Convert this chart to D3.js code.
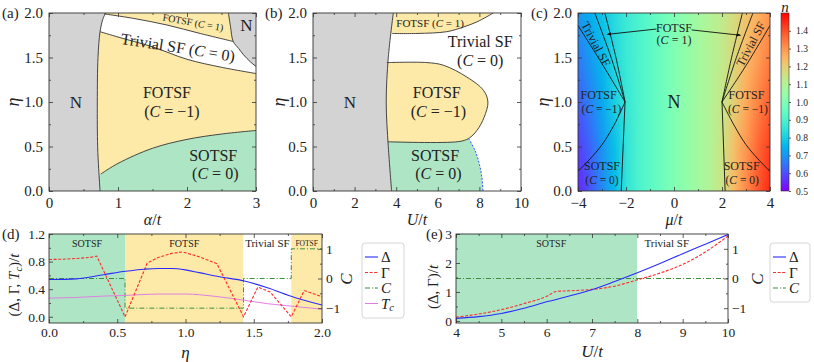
<!DOCTYPE html>
<html><head><meta charset="utf-8">
<script src="https://cdn.jsdelivr.net/npm/d3@7"></script>
<style>
body{margin:0;background:#fff}
svg text{font-family:"Liberation Serif","Times New Roman",serif;fill:#222}
</style></head><body>
<svg id="fig" width="814" height="362"></svg>
<script>
'use strict';

// ---- panel (a): alpha/t vs eta boundaries [alpha, eta]
var aNBound = [[0.74,0],[0.72,0.25],[0.705,0.5],[0.70,1.0],[0.71,1.5],[0.74,1.79],[0.78,1.93],[0.82,2.0]];
var aSotsfBound = [[0.75,0.19],[1.0,0.31],[1.5,0.48],[2.0,0.58],[2.5,0.64],[3.0,0.68]];
var aTrivLow = [[0.74,1.79],[1.0,1.73],[1.5,1.62],[2.0,1.48],[2.5,1.39],[3.0,1.32]];
var aTrivTop = [[0.80,1.99],[1.22,1.94],[1.71,1.865],[2.19,1.77],[2.67,1.68]];
var aNRight = [[2.6,2.0],[2.63,1.85],[2.67,1.68],[2.75,1.6],[2.82,1.53],[2.92,1.45],[3.0,1.40]];

// ---- panel (b): U/t vs eta [U, eta]
var bNBound = [[3.78,0],[3.62,0.5],[3.52,1.0],[3.62,1.5],[3.86,2.0]];
var bTopLobe = [[3.8,1.77],[5.0,1.77],[6.43,1.79],[7.2,1.84],[7.88,1.90],[8.67,2.0]];
var bMidLobe = [[3.55,1.443],[5.47,1.443],[6.27,1.413],[7.40,1.28],[8.2,1.13],[8.41,1.0],[8.23,0.83],[7.88,0.68],[7.48,0.59],[7.0,0.555],[3.6,0.553]];
var bSotsfEdge = [[7.48,0.59],[7.8,0.45],[8.0,0.3],[8.12,0.15],[8.17,0]];

// ---- panel (c): mu/t vs eta, density n
var cMu = [-4,-3.5,-3,-2.5,-2,-1.5,-1,-0.5,0,0.5,1,1.5,2,2.5,3,3.5,4];
var cEta = [0,0.5,1,1.5,2];
var cN = [
  [0.55,0.61,0.68,0.76,0.85,0.90,0.93,0.965,1.0,1.035,1.07,1.10,1.15,1.24,1.32,1.39,1.45],
  [0.58,0.63,0.70,0.77,0.85,0.90,0.93,0.965,1.0,1.035,1.07,1.10,1.15,1.23,1.30,1.37,1.42],
  [0.62,0.67,0.73,0.80,0.86,0.90,0.93,0.965,1.0,1.035,1.07,1.10,1.14,1.20,1.27,1.33,1.38],
  [0.66,0.71,0.76,0.82,0.87,0.90,0.93,0.965,1.0,1.035,1.07,1.10,1.13,1.18,1.24,1.29,1.34],
  [0.70,0.74,0.78,0.83,0.87,0.90,0.93,0.965,1.0,1.035,1.07,1.10,1.13,1.17,1.22,1.26,1.30]
];
var cLines = [
  [[-4,0.22],[-3.5,0.36],[-3,0.52],[-2.5,0.74],[-2.04,1.0]],
  [[-4,1.86],[-3,1.43],[-2.04,1.0]],
  [[-3.3,2.0],[-2.62,1.5],[-2.04,1.0]],
  [[-2.88,2.0],[-2.42,1.5],[-2.04,1.0]],
  [[-2.2,0],[-2.04,1.0]],
  [[4,0.22],[3.5,0.36],[3,0.52],[2.5,0.74],[2.0,1.0]],
  [[4,1.86],[3,1.41],[2.0,1.0]],
  [[3.29,2.0],[2.6,1.5],[2.0,1.0]],
  [[2.85,2.0],[2.4,1.5],[2.0,1.0]],
  [[2.13,0],[2.0,1.0]]
];
var cbTicks = [0.5,0.6,0.7,0.8,0.9,1.0,1.1,1.2,1.3,1.4];

// ---- panel (d): quantities vs eta
var dEta = [0,0.2,0.4,0.56,0.7,0.8,0.9,1.0,1.1,1.25,1.43,1.6,1.8,2.0];
var dDelta = [0.54,0.55,0.61,0.66,0.69,0.70,0.70,0.68,0.64,0.58,0.52,0.42,0.28,0.17];
var dGamma = [[0,0.83],[0.1,0.835],[0.2,0.845],[0.3,0.86],[0.35,0.88],[0.557,0.0],[0.72,0.78],[0.8,0.86],[0.9,0.92],[0.98,0.94],[1.1,0.87],[1.23,0.77],[1.425,0.0],[1.53,0.43],[1.62,0.36],[1.775,0.0],[1.87,0.38],[1.93,0.34],[2.0,0.29]];
var dChern = [[0,0],[0.557,0],[0.557,-1],[1.425,-1],[1.425,0],[1.775,0],[1.775,1],[2.0,1]];
var dTcEta = [0,0.2,0.4,0.56,0.8,1.0,1.2,1.43,1.6,1.8,2.0];
var dTc = [0.27,0.28,0.30,0.31,0.33,0.33,0.30,0.24,0.19,0.15,0.11];
var dBandEdges = [0,0.557,1.425,1.775,2.0];
var dBandNames = ['SOTSF','FOTSF','Trivial SF','FOTSF'];

// ---- panel (e): quantities vs U
var eU = [4,4.5,5,5.5,6,6.5,7,7.5,8,8.5,9,9.5,10];
var eDelta = [0.09,0.15,0.26,0.44,0.66,0.86,1.08,1.36,1.66,1.98,2.32,2.65,2.98];
var eGamma = [[4,0.13],[4.5,0.24],[5,0.39],[5.5,0.6],[6,0.85],[6.22,1.02],[6.5,1.04],[7,1.09],[7.5,1.2],[8,1.42],[8.5,1.65],[9,1.95],[9.5,2.38],[10,2.93]];
var eChern = [[4,0],[10,0]];
var eBandEdges = [4,8,10];
var eBandNames = ['SOTSF','Trivial SF'];
var eBandLabelU = [6.1,8.65];

var GREEN = '#aee6c5', YELLOW = '#fde9a8', GRAY = '#d3d3d3', EDGE = '#333';
var FONT = '"Liberation Serif","Times New Roman",serif';

var svg = d3.select('#fig');
var defs = svg.append('defs');
var clipN = 0;

function panel (box, xd, yd) {
  var x = d3.scaleLinear().domain(xd).range([box.l, box.r]);
  var y = d3.scaleLinear().domain(yd).range([box.b, box.t]);
  var id = 'clip' + (clipN++);
  defs.append('clipPath').attr('id', id).append('rect')
    .attr('x', box.l).attr('y', box.t).attr('width', box.r - box.l).attr('height', box.b - box.t);
  var g = svg.append('g');
  var plot = g.append('g').attr('clip-path', 'url(#' + id + ')');
  return {x: x, y: y, g: g, plot: plot, box: box};
}

function side (g, axis, scale, vals, size, fmt, tr, fs, pad) {
  var a = g.append('g').attr('transform', tr)
    .call(axis(scale).tickValues(vals).tickSizeInner(-size).tickSizeOuter(0)
      .tickPadding(pad || 5).tickFormat(fmt || function () { return ''; }));
  a.select('.domain').remove();
  a.selectAll('line').attr('stroke', EDGE).attr('stroke-width', 0.8);
  a.selectAll('text').attr('font-size', fs).attr('font-family', FONT).attr('fill', '#222');
  return a;
}

function axes (p, o) {
  var b = p.box, g = p.g;
  side(g, d3.axisBottom, p.x, o.xt, 4, o.xf, 'translate(0,' + b.b + ')', o.fs, o.pad);
  side(g, d3.axisBottom, p.x, o.xm, 2, null, 'translate(0,' + b.b + ')', o.fs);
  side(g, d3.axisTop, p.x, o.xt, 4, null, 'translate(0,' + b.t + ')', o.fs);
  side(g, d3.axisTop, p.x, o.xm, 2, null, 'translate(0,' + b.t + ')', o.fs);
  side(g, d3.axisLeft, p.y, o.yt, 4, o.yf, 'translate(' + b.l + ',0)', o.fs, o.pad);
  side(g, d3.axisLeft, p.y, o.ym, 2, null, 'translate(' + b.l + ',0)', o.fs);
  if (o.y2) {
    side(g, d3.axisRight, o.y2, [-1, 0, 1], 4, d3.format('d'), 'translate(' + b.r + ',0)', o.fs, o.pad);
    side(g, d3.axisRight, o.y2, [-0.5, 0.5], 2, null, 'translate(' + b.r + ',0)', o.fs);
  } else {
    side(g, d3.axisRight, p.y, o.yt, 4, null, 'translate(' + b.r + ',0)', o.fs);
    side(g, d3.axisRight, p.y, o.ym, 2, null, 'translate(' + b.r + ',0)', o.fs);
  }
  g.append('rect').attr('x', b.l).attr('y', b.t).attr('width', b.r - b.l).attr('height', b.b - b.t)
    .attr('fill', 'none').attr('stroke', EDGE).attr('stroke-width', 0.9);
}

// rich text: parts = [[string, italic, sub, unsub]]
function rich (g, x, y, parts, fs, opt) {
  opt = opt || {};
  var t = g.append('text').attr('x', x).attr('y', y).attr('font-size', fs)
    .attr('text-anchor', opt.anchor || 'middle').attr('dominant-baseline', 'central');
  if (opt.rotate) t.attr('transform', 'rotate(' + opt.rotate + ',' + x + ',' + y + ')');
  parts.forEach(function (pt) {
    var s = t.append('tspan').text(pt[0]);
    if (pt[1]) s.attr('font-style', 'italic');
    if (pt[2]) s.attr('font-size', fs * 0.7).attr('dy', fs * 0.25);
    else if (pt[3]) s.attr('dy', -fs * 0.25);
  });
  return t;
}

function seg (p, pts, curve) {
  return d3.line().x(function (d) { return p.x(d[0]); }).y(function (d) { return p.y(d[1]); })
    .curve(curve || d3.curveCatmullRom.alpha(0.5))(pts);
}
function lin (p, pts) {
  return pts.map(function (d) { return 'L' + p.x(d[0]) + ',' + p.y(d[1]); }).join('');
}
function join () {
  return Array.prototype.slice.call(arguments).map(function (s, i) {
    return i === 0 ? s : s.replace(/^M/, 'L');
  }).join('') + 'Z';
}
function stroke (p, pts, col, w, dash) {
  p.plot.append('path').attr('d', seg(p, pts)).attr('fill', 'none')
    .attr('stroke', col || EDGE).attr('stroke-width', w || 0.9).attr('stroke-dasharray', dash || null);
}
function fillRect (p, col) {
  var b = p.box;
  p.plot.append('rect').attr('x', b.l).attr('y', b.t).attr('width', b.r - b.l).attr('height', b.b - b.t).attr('fill', col);
}

function chern (v) { return [['(', 0], ['C', 1], [' = ' + v + ')', 0]]; }

var topAxis = {fs: 15, yt: [0, 0.5, 1, 1.5, 2], ym: [0.25, 0.75, 1.25, 1.75], yf: d3.format('.1f'), pad: 6};

// ================= (a)
var pa = panel({l: 49, r: 256, t: 13, b: 191}, [0, 3], [0, 2]);
fillRect(pa, YELLOW);
pa.plot.append('path').attr('fill', GREEN).attr('d', join(seg(pa, aSotsfBound), lin(pa, [[3, 0], [0.5, 0]])));
pa.plot.append('path').attr('fill', '#fff').attr('d', join(seg(pa, aTrivTop), seg(pa, aNRight.slice(2)),
  lin(pa, [[3, 1.32]]), seg(pa, aTrivLow.slice().reverse())));
pa.plot.append('path').attr('fill', GRAY).attr('d', join(seg(pa, aNRight), lin(pa, [[3, 2]])));
pa.plot.append('path').attr('fill', GRAY).attr('d', join(seg(pa, aNBound), lin(pa, [[0, 2], [0, 0]])));
[aNBound, aSotsfBound, aTrivLow, aTrivTop, aNRight].forEach(function (b) { stroke(pa, b); });
axes(pa, Object.assign({xt: [0, 1, 2, 3], xm: [0.5, 1.5, 2.5], xf: d3.format('d')}, topAxis));
rich(pa.g, pa.x(0.39), pa.y(1.0), [['N', 0]], 17);
rich(pa.g, pa.x(2.86), pa.y(1.87), [['N', 0]], 17);
rich(pa.g, pa.x(2.09), pa.y(1.90), [['FOTSF ', 0]].concat(chern('1')), 10, {rotate: 10});
rich(pa.g, pa.x(1.87), pa.y(1.62), [['Trivial SF ', 0]].concat(chern('0')), 16, {rotate: 9});
rich(pa.g, pa.x(1.71), pa.y(1.11), [['FOTSF', 0]], 16);
rich(pa.g, pa.x(1.78), pa.y(0.90), chern('\u22121'), 16);
rich(pa.g, pa.x(2.38), pa.y(0.41), [['SOTSF', 0]], 16);
rich(pa.g, pa.x(2.41), pa.y(0.20), chern('0'), 16);

// ================= (b)
var pb = panel({l: 313, r: 521, t: 13, b: 191}, [0, 10], [0, 2]);
pb.plot.append('path').attr('fill', GREEN).attr('d', join('M' + pb.x(3) + ',' + pb.y(0), lin(pb, [[3, 0.62], [7.48, 0.62]]), seg(pb, bSotsfEdge).replace(/^M/, 'L')));
pb.plot.append('path').attr('fill', YELLOW).attr('d', join(seg(pb, bMidLobe), lin(pb, [[3, 0.553], [3, 1.443]])));
pb.plot.append('path').attr('fill', YELLOW).attr('d', join(seg(pb, bTopLobe), lin(pb, [[3, 2], [3, 1.77]])));
pb.plot.append('path').attr('fill', GRAY).attr('d', join(seg(pb, bNBound), lin(pb, [[0, 2], [0, 0]])));
[bNBound, bTopLobe, bMidLobe].forEach(function (b) { stroke(pb, b); });
stroke(pb, bSotsfEdge, '#3355ff', 1, '2,1.5');
axes(pb, Object.assign({xt: [0, 2, 4, 6, 8, 10], xm: [1, 3, 5, 7, 9], xf: d3.format('d')}, topAxis));
rich(pb.g, pb.x(5.63), pb.y(1.89), [['FOTSF ', 0]].concat(chern('1')), 11);
rich(pb.g, pb.x(8.04), pb.y(1.68), [['Trivial SF', 0]], 16);
rich(pb.g, pb.x(8.04), pb.y(1.47), chern('0'), 16);
rich(pb.g, pb.x(1.77), pb.y(1.0), [['N', 0]], 17);
rich(pb.g, pb.x(5.95), pb.y(1.11), [['FOTSF', 0]], 16);
rich(pb.g, pb.x(6.03), pb.y(0.90), chern('\u22121'), 16);
rich(pb.g, pb.x(5.87), pb.y(0.41), [['SOTSF', 0]], 16);
rich(pb.g, pb.x(6.03), pb.y(0.20), chern('0'), 16);

// ================= (c)
function rainbow (t) {
  t = Math.max(0, Math.min(1, t));
  return d3.rgb(255 * Math.min(1, Math.abs(2 * t - 0.5)), 255 * Math.sin(Math.PI * t), 255 * Math.cos(Math.PI * t / 2));
}
var nScale = d3.scaleLinear().domain([0.5, 1.5]).range([0, 1]);
var pc = panel({l: 578, r: 770, t: 13, b: 191}, [-4, 4], [0, 2]);
(function () {
  var cv = document.createElement('canvas');
  cv.width = cMu.length; cv.height = cEta.length;
  var ctx = cv.getContext('2d');
  var img = ctx.createImageData(cv.width, cv.height);
  cEta.forEach(function (e, j) {
    var row = cEta.length - 1 - j;
    cMu.forEach(function (m, i) {
      var c = rainbow(nScale(cN[j][i]));
      var k = 4 * (row * cv.width + i);
      img.data[k] = c.r; img.data[k + 1] = c.g; img.data[k + 2] = c.b; img.data[k + 3] = 255;
    });
  });
  ctx.putImageData(img, 0, 0);
  var hm = 0.25, he = 0.25;
  pc.plot.append('image').attr('href', cv.toDataURL())
    .attr('x', pc.x(cMu[0] - hm)).attr('y', pc.y(cEta[cEta.length - 1] + he))
    .attr('width', pc.x(cMu[cMu.length - 1] + hm) - pc.x(cMu[0] - hm))
    .attr('height', pc.y(cEta[0] - he) - pc.y(cEta[cEta.length - 1] + he))
    .attr('preserveAspectRatio', 'none');
})();
cLines.forEach(function (l) { stroke(pc, l, '#111', 0.9); });
axes(pc, Object.assign({xt: [-4, -2, 0, 2, 4], xm: [-3, -1, 1, 3], xf: d3.format('d')}, topAxis));
defs.append('marker').attr('id', 'arr').attr('viewBox', '0 0 10 10').attr('refX', 9).attr('refY', 5)
  .attr('markerWidth', 5).attr('markerHeight', 5).attr('orient', 'auto')
  .append('path').attr('d', 'M0,1L10,5L0,9Z').attr('fill', '#111');
[[[-0.73, 1.82], [-2.78, 1.76]], [[0.73, 1.81], [2.77, 1.75]]].forEach(function (a) {
  pc.g.append('line').attr('x1', pc.x(a[0][0])).attr('y1', pc.y(a[0][1])).attr('x2', pc.x(a[1][0])).attr('y2', pc.y(a[1][1]))
    .attr('stroke', '#111').attr('stroke-width', 0.9).attr('marker-end', 'url(#arr)');
});
rich(pc.g, pc.x(0), pc.y(1.835), [['FOTSF', 0]], 12);
rich(pc.g, pc.x(0), pc.y(1.695), chern('1'), 12);
rich(pc.g, pc.x(0), pc.y(1.0), [['N', 0]], 18);
rich(pc.g, pc.x(-3.14), pc.y(1.075), [['FOTSF', 0]], 12);
rich(pc.g, pc.x(-3.02), pc.y(0.925), chern('\u22121'), 11.5);
rich(pc.g, pc.x(3.02), pc.y(1.075), [['FOTSF', 0]], 12);
rich(pc.g, pc.x(3.08), pc.y(0.925), chern('\u22121'), 11.5);
rich(pc.g, pc.x(-3.0), pc.y(0.285), [['SOTSF', 0]], 12);
rich(pc.g, pc.x(-3.0), pc.y(0.125), chern('0'), 11.5);
rich(pc.g, pc.x(2.82), pc.y(0.285), [['SOTSF', 0]], 12);
rich(pc.g, pc.x(2.84), pc.y(0.125), chern('0'), 11.5);
rich(pc.g, pc.x(-3.25), pc.y(1.65), [['Trivial SF', 0]], 12, {rotate: 62});
rich(pc.g, pc.x(3.2), pc.y(1.65), [['Trivial SF', 0]], 12, {rotate: -62});

// colorbar
var cb = {l: 781, r: 789, t: 13, b: 191};
var cbY = d3.scaleLinear().domain([0.5, 1.5]).range([cb.b, cb.t]);
var grad = defs.append('linearGradient').attr('id', 'cbg').attr('x1', 0).attr('y1', 1).attr('x2', 0).attr('y2', 0);
d3.range(0, 1.0001, 0.05).forEach(function (t) {
  grad.append('stop').attr('offset', t).attr('stop-color', rainbow(t).formatHex());
});
svg.append('rect').attr('x', cb.l).attr('y', cb.t).attr('width', cb.r - cb.l).attr('height', cb.b - cb.t)
  .attr('fill', 'url(#cbg)').attr('stroke', EDGE).attr('stroke-width', 0.6);
side(svg, d3.axisRight, cbY, cbTicks, -2, d3.format('.1f'), 'translate(' + cb.r + ',0)', 9.5, 5);
svg.append('text').attr('x', (cb.l + cb.r) / 2).attr('y', 7).attr('font-size', 15).attr('font-style', 'italic')
  .attr('text-anchor', 'middle').attr('dominant-baseline', 'central').text('n');

// panel tags and axis titles, top row
[['(a)', 2], ['(b)', 265], ['(c)', 531]].forEach(function (t) {
  svg.append('text').attr('x', t[1]).attr('y', 13).attr('font-size', 15).attr('dominant-baseline', 'central').text(t[0]);
});
rich(svg, (pa.box.l + pa.box.r) / 2, 219, [['\u03b1', 1], ['/', 0], ['t', 1]], 16);
rich(svg, (pb.box.l + pb.box.r) / 2, 219, [['U', 1], ['/', 0], ['t', 1]], 16);
rich(svg, (pc.box.l + pc.box.r) / 2, 219, [['\u03bc', 1], ['/', 0], ['t', 1]], 16);
[13, 279, 543].forEach(function (xx) {
  rich(svg, xx, 102, [['\u03b7', 1]], 18, {rotate: -90});
});

// ================= (d) and (e)
function bands (p, edges, names, fills, lx, fsz) {
  edges.slice(0, -1).forEach(function (e, i) {
    p.plot.append('rect').attr('x', p.x(e)).attr('y', p.box.t).attr('width', p.x(edges[i + 1]) - p.x(e))
      .attr('height', p.box.b - p.box.t).attr('fill', fills[i]);
    var cx = lx ? p.x(lx[i]) : (p.x(e) + p.x(edges[i + 1])) / 2;
    rich(p.g, cx, p.box.t + 9, [[names[i], 0]], fsz[i]);
  });
}
function legend (x0, y0, w, h, items) {
  svg.append('rect').attr('x', x0).attr('y', y0).attr('width', w).attr('height', h).attr('rx', 3)
    .attr('fill', '#fff').attr('stroke', '#ccc').attr('stroke-width', 0.8);
  items.forEach(function (it, i) {
    var yy = y0 + 14 + i * 15.5;
    svg.append('line').attr('x1', x0 + 3).attr('x2', x0 + 16).attr('y1', yy).attr('y2', yy)
      .attr('stroke', it.col).attr('stroke-width', it.w).attr('stroke-dasharray', it.dash || null);
    rich(svg, x0 + 19, yy, it.label, 15, {anchor: 'start'});
  });
}
var sDelta = {col: '#2b2bff', w: 1.1, label: [['\u0394', 0]]};
var sGamma = {col: '#ff2a2a', w: 1.1, dash: '3,1.6', label: [['\u0393', 0]]};
var sChern = {col: '#3d8f3d', w: 1.0, dash: '5,2,1,2', label: [['C', 1]]};
var sTc = {col: '#e17fe1', w: 1.0, label: [['T', 1], ['c', 1, 1]]};
var botAxisBase = {fs: 13.5, pad: 4};

function curve (p, xs, ys, s, yscale, cv) {
  var pts = xs.map(function (v, i) { return [v, ys[i]]; });
  var ys2 = yscale || p.y;
  p.plot.append('path').attr('fill', 'none').attr('stroke', s.col).attr('stroke-width', s.w)
    .attr('stroke-dasharray', s.dash || null)
    .attr('d', d3.line().x(function (d) { return p.x(d[0]); }).y(function (d) { return ys2(d[1]); }).curve(cv || d3.curveLinear)(pts));
}
function pairs (arr, k) { return arr.map(function (d) { return d[k]; }); }

var pd = panel({l: 49, r: 322, t: 234, b: 323}, [0, 2], [-0.09, 1.2]);
var pdC = d3.scaleLinear().domain([-1.5, 1.5]).range([323, 234]);
bands(pd, dBandEdges, dBandNames, [GREEN, YELLOW, '#fff', YELLOW], null, [10, 10, 11, 7.5]);
curve(pd, pairs(dChern, 0), pairs(dChern, 1), sChern, pdC);
curve(pd, dTcEta, dTc, sTc, null, d3.curveMonotoneX);
curve(pd, pairs(dGamma, 0), pairs(dGamma, 1), sGamma);
curve(pd, dEta, dDelta, sDelta, null, d3.curveMonotoneX);
axes(pd, Object.assign({xt: [0, 0.5, 1, 1.5, 2], xm: [0.25, 0.75, 1.25, 1.75], xf: d3.format('.1f'),
  yt: [0, 0.4, 0.8, 1.2], ym: [0.2, 0.6, 1.0], yf: d3.format('.1f'), y2: pdC}, botAxisBase));
legend(362, 243, 42, 75, [sDelta, sGamma, sChern, sTc]);
svg.append('text').attr('x', 2).attr('y', 234).attr('font-size', 15).attr('dominant-baseline', 'central').text('(d)');
rich(svg, 14, 285, [['(\u0394, \u0393, ', 0], ['T', 1], ['c', 1, 1], [')/', 0, 0, 1], ['t', 1]], 15, {rotate: -90});
rich(svg, 346, 279, [['C', 1]], 17, {rotate: -90});
rich(svg, (pd.box.l + pd.box.r) / 2, 352, [['\u03b7', 1]], 17);

var pe = panel({l: 456, r: 728, t: 234, b: 323}, [4, 10], [-0.07, 3]);
var peC = d3.scaleLinear().domain([-1.5, 1.5]).range([323, 234]);
bands(pe, eBandEdges, eBandNames, [GREEN, '#fff'], eBandLabelU, [10, 11]);
curve(pe, pairs(eChern, 0), pairs(eChern, 1), sChern, peC);
curve(pe, pairs(eGamma, 0), pairs(eGamma, 1), sGamma, null, d3.curveMonotoneX);
curve(pe, eU, eDelta, sDelta, null, d3.curveMonotoneX);
axes(pe, Object.assign({xt: [4, 5, 6, 7, 8, 9, 10], xm: [4.5, 5.5, 6.5, 7.5, 8.5, 9.5], xf: d3.format('d'),
  yt: [0, 1, 2, 3], ym: [0.5, 1.5, 2.5], yf: d3.format('d'), y2: peC}, botAxisBase));
legend(770, 243, 40, 59, [sDelta, sGamma, sChern]);
svg.append('text').attr('x', 426).attr('y', 234).attr('font-size', 15).attr('dominant-baseline', 'central').text('(e)');
rich(svg, 433, 287, [['(\u0394, \u0393)/', 0], ['t', 1]], 15, {rotate: -90});
rich(svg, 757, 279, [['C', 1]], 17, {rotate: -90});
rich(svg, (pe.box.l + pe.box.r) / 2, 351, [['U', 1], ['/', 0], ['t', 1]], 17);
</script>
</body></html>
